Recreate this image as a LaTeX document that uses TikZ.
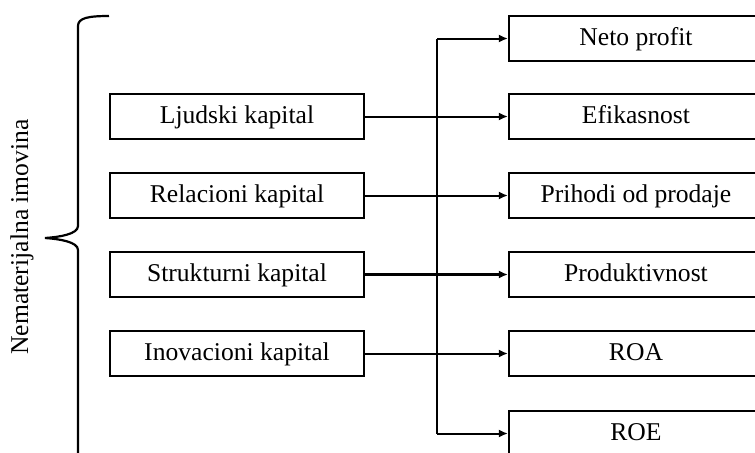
\documentclass[tikz,border=0pt]{standalone}
\usepackage{fontspec}
\setmainfont{Liberation Serif}
\usetikzlibrary{arrows.meta}
\begin{document}
\begin{tikzpicture}[x=0.5pt,y=-0.5pt,
  box/.style={draw,line width=1.1pt,minimum width=127pt,minimum height=22.5pt,inner sep=0pt,
    text height=0.66em,text depth=0pt,font=\fontsize{12.8}{15}\selectfont},
  link/.style={line width=1pt,-{Latex[length=4.5pt,width=4pt]}},
  trunk/.style={line width=1pt}]
\useasboundingbox (0,0) rectangle (755,452);
\clip (0,0) rectangle (755,452);
% drivers
\node[box] (L1) at (237,116.5) {Ljudski kapital};
\node[box] (L2) at (237,195.5) {Relacioni kapital};
\node[box] (L3) at (237,274.5) {Strukturni kapital};
\node[box] (L4) at (237,353.5) {Inovacioni kapital};
% outcomes
\node[box] (R1) at (636,38.5) {Neto profit};
\node[box] (R2) at (636,116.5) {Efikasnost};
\node[box] (R3) at (636,195.5) {Prihodi od prodaje};
\node[box] (R4) at (636,274.5) {Produktivnost};
\node[box] (R5) at (636,353.5) {ROA};
\node[box] (R6) at (636,433.5) {ROE};
% vertical trunk
\coordinate (vt) at (437,38.5);
\coordinate (vb) at (437,433.5);
\draw[trunk] (vt) -- (vb);
\draw[link] (vt) -- (R1);
\draw[link] (vb) -- (R6);
\draw[link] (L1) -- (R2);
\draw[link] (L2) -- (R3);
\draw[link,line width=1.5pt] (L3) -- (R4);
\draw[link] (L4) -- (R5);
% brace and group label
\draw[line width=1.1pt] (109,16) .. controls (88,16) and (78,18) .. (78,26) -- (78,226)
  .. controls (78,234) and (60,237) .. (45,238)
  .. controls (60,239) and (78,242) .. (78,250) -- (78,470);
\node[rotate=90,font=\fontsize{12.8}{15}\selectfont] (grp) at (22,237) {Nematerijalna imovina};
\end{tikzpicture}
\end{document}
